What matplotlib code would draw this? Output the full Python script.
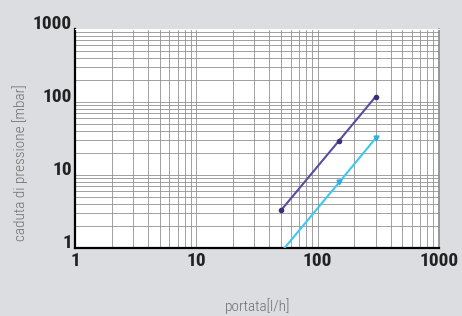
import matplotlib
matplotlib.use("Agg")
import matplotlib.pyplot as plt
from matplotlib.ticker import LogLocator, NullFormatter, FixedLocator

# portata [l/h] vs caduta di pressione [mbar]
flow_a = [50, 150, 300]
drop_a = [3.3, 29.5, 118]

flow_b = [50, 150, 300]
drop_b = [0.88, 7.9, 31.8]

ticks = [1, 10, 100, 1000]
tick_labels = ["1", "10", "100", "1000"]

bg = "#dcdde0"
font = ["Roboto Condensed", "Liberation Sans", "DejaVu Sans"]

fig = plt.figure(figsize=(4.62, 3.16), dpi=100, facecolor=bg)
ax = fig.add_axes([75 / 462, 1 - 248 / 316, 364 / 462, 219 / 316])
ax.set_facecolor("white")

ax.set_xscale("log")
ax.set_yscale("log")
ax.set_xlim(1, 1000)
ax.set_ylim(1, 1000)

ax.xaxis.set_major_locator(FixedLocator(ticks))
ax.yaxis.set_major_locator(FixedLocator(ticks))
ax.xaxis.set_minor_locator(LogLocator(base=10, subs=range(2, 10)))
ax.yaxis.set_minor_locator(LogLocator(base=10, subs=range(2, 10)))
ax.xaxis.set_minor_formatter(NullFormatter())
ax.yaxis.set_minor_formatter(NullFormatter())
ax.grid(True, which="both", color="#909090", linewidth=0.6)
ax.tick_params(which="both", length=0)
ax.set_xticklabels(tick_labels, fontsize=14, fontweight="bold", family=font, color="#222222")
ax.set_yticklabels([])
ax.tick_params(axis="x", pad=3)

# y labels sit on their grid line, left of the axis
for v, lab in zip(ticks, tick_labels):
    ax.text(-0.008, v, lab, transform=ax.get_yaxis_transform(), ha="right", va="baseline",
            fontsize=14, fontweight="bold", family=font, color="#222222")

for side in ["left", "bottom"]:
    ax.spines[side].set_color("black")
    ax.spines[side].set_linewidth(1.6)
ax.spines["right"].set_color("#8a8a8a")
ax.spines["right"].set_linewidth(1.2)
ax.spines["top"].set_color("white")

ax.plot(flow_a, drop_a, color="#5a4ca0", linewidth=1.5, marker="o", markersize=3,
        markerfacecolor="#3a2f7a", markeredgecolor="#3a2f7a", zorder=5)
ax.plot(flow_b, drop_b, color="#3cc8f0", linewidth=1.5, marker="v", markersize=3.5,
        markerfacecolor="#2ab0e0", markeredgecolor="#2ab0e0", zorder=5)

fig.text(20 / 462, 1 - 163 / 316, "caduta di pressione [mbar]", rotation=90,
         ha="center", va="center", fontsize=11, fontweight="light", family=font, color="#6e6e6e")
fig.text(258 / 462, 1 - 306 / 316, "portata[l/h]", ha="center", va="center",
         fontsize=11, fontweight="light", family=font, color="#6e6e6e")

fig.savefig("out.png", dpi=100, facecolor=bg)
